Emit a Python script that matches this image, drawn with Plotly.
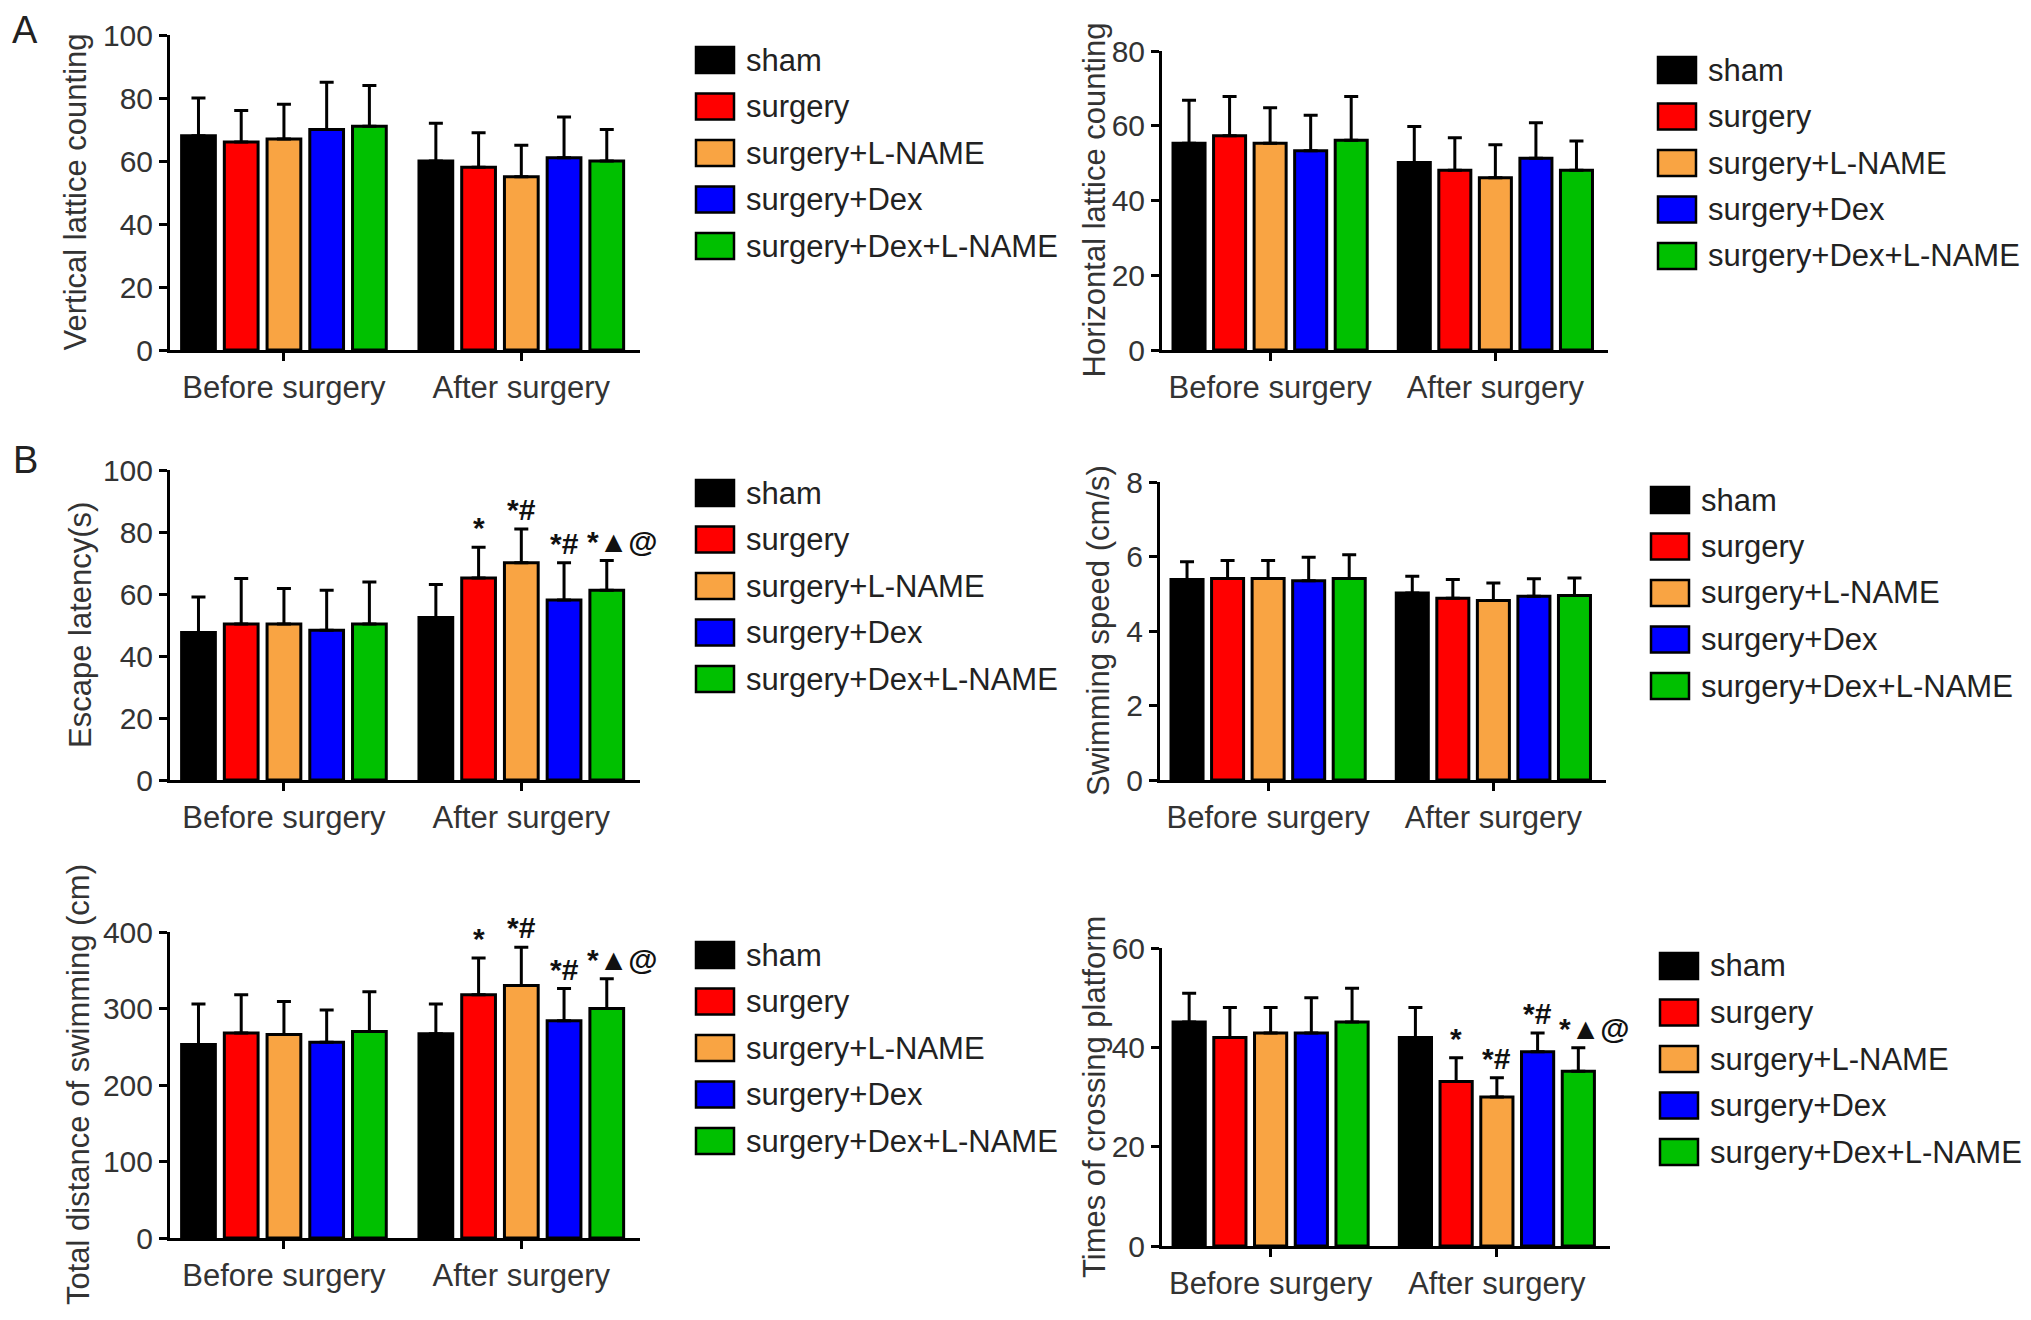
import plotly.graph_objects as go
from plotly.subplots import make_subplots

W, H = 2031, 1320
OFF = 8  # page body margin in the browser

groups = ["sham", "surgery", "surgery+L-NAME", "surgery+Dex", "surgery+Dex+L-NAME"]
colors = ["#000000", "#ff0000", "#f9a443", "#0000ff", "#00c000"]
periods = ["Before surgery", "After surgery"]

# vertical lattice counting
vertical_before = [68, 66, 67, 70, 71]
vertical_before_sd = [12, 10, 11, 15, 13]
vertical_after = [60, 58, 55, 61, 60]
vertical_after_sd = [12, 11, 10, 13, 10]

# horizontal lattice counting
horizontal_before = [55.3, 57.3, 55.3, 53.3, 56.1]
horizontal_before_sd = [11.5, 10.5, 9.5, 9.5, 11.7]
horizontal_after = [50.2, 48.1, 46.1, 51.3, 48.1]
horizontal_after_sd = [9.6, 8.7, 8.8, 9.5, 7.8]

# escape latency (s)
escape_before = [47.6, 50.3, 50.3, 48.3, 50.3]
escape_before_sd = [11.4, 14.7, 11.5, 12.9, 13.6]
escape_after = [52.4, 65.2, 70.1, 58.1, 61.2]
escape_after_sd = [10.7, 9.9, 10.9, 12.0, 9.6]
escape_marks = ["", "*", "*#", "*#", "*▲@"]

# swimming speed (cm/s)
speed_before = [5.38, 5.41, 5.41, 5.35, 5.41]
speed_before_sd = [0.48, 0.48, 0.48, 0.63, 0.64]
speed_after = [5.02, 4.88, 4.82, 4.93, 4.95]
speed_after_sd = [0.45, 0.50, 0.47, 0.47, 0.47]

# total distance of swimming (cm)
distance_before = [253, 268, 266, 256, 270]
distance_before_sd = [53, 50, 43, 42, 52]
distance_after = [267, 318, 330, 284, 300]
distance_after_sd = [39, 48, 50, 42, 39]
distance_marks = ["", "*", "*#", "*#", "*▲@"]

# times of crossing platform
crossing_before = [45.1, 42.0, 42.9, 42.9, 45.1]
crossing_before_sd = [5.8, 6.0, 5.1, 7.1, 6.8]
crossing_after = [42.0, 33.1, 30.0, 39.1, 35.2]
crossing_after_sd = [6.0, 4.8, 3.9, 3.8, 4.7]
crossing_marks = ["", "*", "*#", "*#", "*▲@"]

panels = [
    dict(title="Vertical lattice counting", b=vertical_before, bsd=vertical_before_sd,
         a=vertical_after, asd=vertical_after_sd, marks=None, top=100, dtick=20,
         xpx=(170, 640), ypx=(35, 350), leg=(696, 60), tx=75),
    dict(title="Horizontal lattice counting", b=horizontal_before, bsd=horizontal_before_sd,
         a=horizontal_after, asd=horizontal_after_sd, marks=None, top=80, dtick=20,
         xpx=(1162, 1608), ypx=(51, 350), leg=(1658, 70), tx=1094),
    dict(title="Escape latency(s)", b=escape_before, bsd=escape_before_sd,
         a=escape_after, asd=escape_after_sd, marks=escape_marks, top=100, dtick=20,
         xpx=(170, 640), ypx=(470, 780), leg=(696, 493), tx=80),
    dict(title="Swimming speed (cm/s)", b=speed_before, bsd=speed_before_sd,
         a=speed_after, asd=speed_after_sd, marks=None, top=8, dtick=2,
         xpx=(1160, 1606), ypx=(482, 780), leg=(1651, 500), tx=1098),
    dict(title="Total distance of swimming (cm)", b=distance_before, bsd=distance_before_sd,
         a=distance_after, asd=distance_after_sd, marks=distance_marks, top=400, dtick=100,
         xpx=(170, 640), ypx=(932, 1238), leg=(696, 955), tx=78),
    dict(title="Times of crossing platform", b=crossing_before, bsd=crossing_before_sd,
         a=crossing_after, asd=crossing_after_sd, marks=crossing_marks, top=60, dtick=20,
         xpx=(1162, 1610), ypx=(948, 1246), leg=(1660, 966), tx=1094),
]

BARGAP = 0.1
BARGROUPGAP = 0.21
slot = (1 - BARGAP) / len(groups)
FONT = "Liberation Sans, Arial, sans-serif"


def fx(px):
    return (px - OFF) / W


def fy(py):
    return 1 - (py - OFF) / H


fig = make_subplots(rows=3, cols=2)

for k, p in enumerate(panels):
    row, col = k // 2 + 1, k % 2 + 1
    for i, g in enumerate(groups):
        fig.add_trace(go.Bar(
            x=periods, y=[p["b"][i], p["a"][i]], name=g, showlegend=False,
            marker=dict(color=colors[i], line=dict(color="black", width=3)),
            error_y=dict(type="data", symmetric=False,
                         array=[p["bsd"][i], p["asd"][i]], arrayminus=[0, 0],
                         color="black", thickness=3, width=7),
        ), row=row, col=col)

    x0, x1 = p["xpx"]
    y0, y1 = p["ypx"]
    fig.update_xaxes(domain=[fx(x0), fx(x1)], range=[-0.48, 1.5],
                     row=row, col=col)
    fig.update_yaxes(domain=[fy(y1), fy(y0)], range=[0, p["top"]],
                     dtick=p["dtick"], tick0=0, row=row, col=col)

    # y axis title, rotated
    fig.add_annotation(xref="paper", yref="paper", x=fx(p["tx"]), y=fy((y0 + y1) / 2),
                       text=p["title"], textangle=-90, showarrow=False,
                       xanchor="center", yanchor="middle",
                       font=dict(size=31, color="#333"))

    # significance marks over the after-surgery bars
    if p["marks"]:
        for i, m in enumerate(p["marks"]):
            if not m:
                continue
            fig.add_annotation(x=1 + (i - 2) * slot, y=p["a"][i] + p["asd"][i],
                               text="<b>" + m + "</b>", showarrow=False, yanchor="bottom",
                               xshift=16 if "@" in m else 0, yshift=1,
                               font=dict(size=30, color="#111", family=FONT),
                               row=row, col=col)

    # legend box drawn beside each panel
    lx, cy0 = p["leg"]
    for i, g in enumerate(groups):
        cy = cy0 + i * 46.5
        fig.add_shape(type="rect", xref="paper", yref="paper",
                      x0=fx(lx), x1=fx(lx + 38),
                      y0=fy(cy + 13), y1=fy(cy - 13),
                      fillcolor=colors[i], line=dict(color="black", width=2.5))
        fig.add_annotation(xref="paper", yref="paper", x=fx(lx + 48), y=fy(cy),
                           text=g, showarrow=False, xanchor="left", yanchor="middle",
                           font=dict(size=31, color="#222"))

for lab, yy in [("A", 30), ("B", 460)]:
    fig.add_annotation(xref="paper", yref="paper", x=fx(25), y=fy(yy), text=lab,
                       showarrow=False, xanchor="center", yanchor="middle",
                       font=dict(size=38, color="#222"))

axis_style = dict(showline=True, linecolor="black", linewidth=3, ticks="outside",
                  ticklen=8, tickwidth=3, tickcolor="black", showgrid=False,
                  zeroline=False, automargin=False)
fig.update_xaxes(**axis_style, tickfont=dict(size=31, color="#333"))
fig.update_yaxes(**axis_style, tickfont=dict(size=30, color="#333"))

fig.update_layout(
    width=W, height=H, margin=dict(l=0, r=0, t=0, b=0),
    template="none", paper_bgcolor="white", plot_bgcolor="white",
    barmode="group", bargap=BARGAP, bargroupgap=BARGROUPGAP,
    font=dict(family=FONT, color="#333"),
)

fig.write_html("out.html")
